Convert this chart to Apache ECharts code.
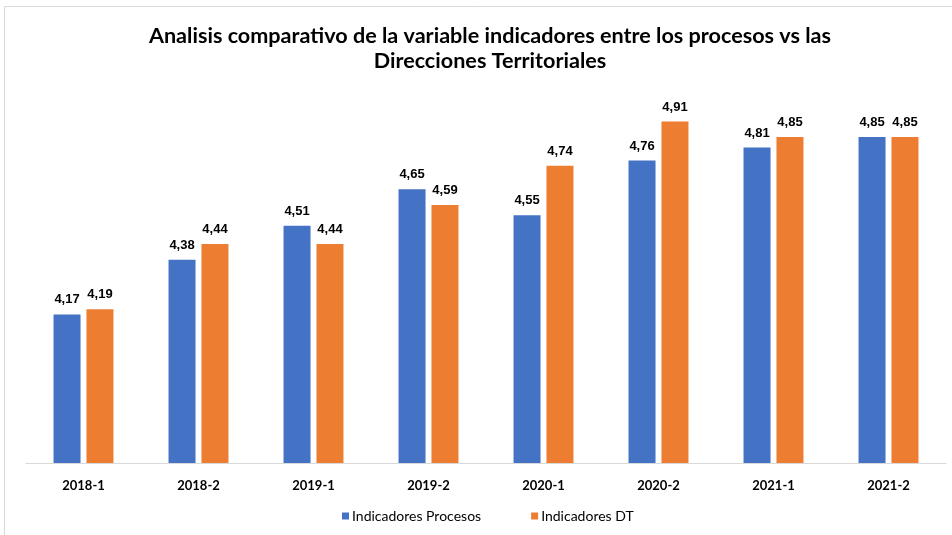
<!DOCTYPE html>
<html>
<head>
<meta charset="utf-8">
<script src="https://cdn.jsdelivr.net/npm/echarts@6/dist/echarts.min.js"></script>
<style>
  html, body { margin: 0; padding: 0; background: #fff; }
  #chart { width: 952px; height: 535px; }
</style>
</head>
<body>
<div id="chart"></div>
<script>
const periods = ['2018-1', '2018-2', '2019-1', '2019-2', '2020-1', '2020-2', '2021-1', '2021-2'];
const procesos = [4.17, 4.38, 4.51, 4.65, 4.55, 4.76, 4.81, 4.85];
const direccionesDT = [4.19, 4.44, 4.44, 4.59, 4.74, 4.91, 4.85, 4.85];

const FONT = 'Lato, "Open Sans", sans-serif';
const fmt = p => p.value.toFixed(2).replace('.', ',');

const chart = echarts.init(document.getElementById('chart'));
chart.setOption({
  animation: false,
  backgroundColor: '#fff',
  graphic: [{
    type: 'rect',
    shape: { x: 4.5, y: 6.5, width: 960, height: 540 },
    style: { fill: 'none', stroke: '#d9d9d9', lineWidth: 1 },
    silent: true
  }],
  title: {
    text: 'Analisis comparativo de la variable indicadores entre los procesos vs las\nDirecciones Territoriales',
    left: 485,
    top: 19,
    textAlign: 'center',
    textStyle: { fontFamily: FONT, fontSize: 21.6, fontWeight: 'bold', color: '#000', lineHeight: 25 }
  },
  legend: {
    bottom: 7,
    left: 337,
    itemWidth: 7,
    itemHeight: 7,
    itemGap: 50,
    icon: 'rect',
    textStyle: { fontFamily: FONT, fontSize: 14, color: '#000', padding: [0, 0, 0, -2] },
    data: ['Indicadores Procesos', 'Indicadores DT']
  },
  grid: { left: 26, right: 6, top: 98, bottom: 72, containLabel: false },
  xAxis: {
    type: 'category',
    data: periods,
    axisLine: { lineStyle: { color: '#d9d9d9', width: 1 } },
    axisTick: { show: false },
    axisLabel: { fontFamily: FONT, fontSize: 13, fontWeight: 'bold', color: '#000', margin: 16 }
  },
  yAxis: {
    type: 'value',
    min: 3.6,
    max: 5.0,
    show: false,
    splitLine: { show: false }
  },
  series: [
    {
      name: 'Indicadores Procesos',
      type: 'bar',
      data: procesos,
      barWidth: 27,
      barGap: '22%',
      itemStyle: { color: '#4472c4' },
      label: { show: true, position: 'top', formatter: fmt, distance: 8,
        fontFamily: 'Arial, sans-serif', fontSize: 13, fontWeight: 'bold', color: '#000' }
    },
    {
      name: 'Indicadores DT',
      type: 'bar',
      data: direccionesDT,
      barWidth: 27,
      itemStyle: { color: '#ed7d31' },
      label: { show: true, position: 'top', formatter: fmt, distance: 8,
        fontFamily: 'Arial, sans-serif', fontSize: 13, fontWeight: 'bold', color: '#000' }
    }
  ]
});
</script>
</body>
</html>
